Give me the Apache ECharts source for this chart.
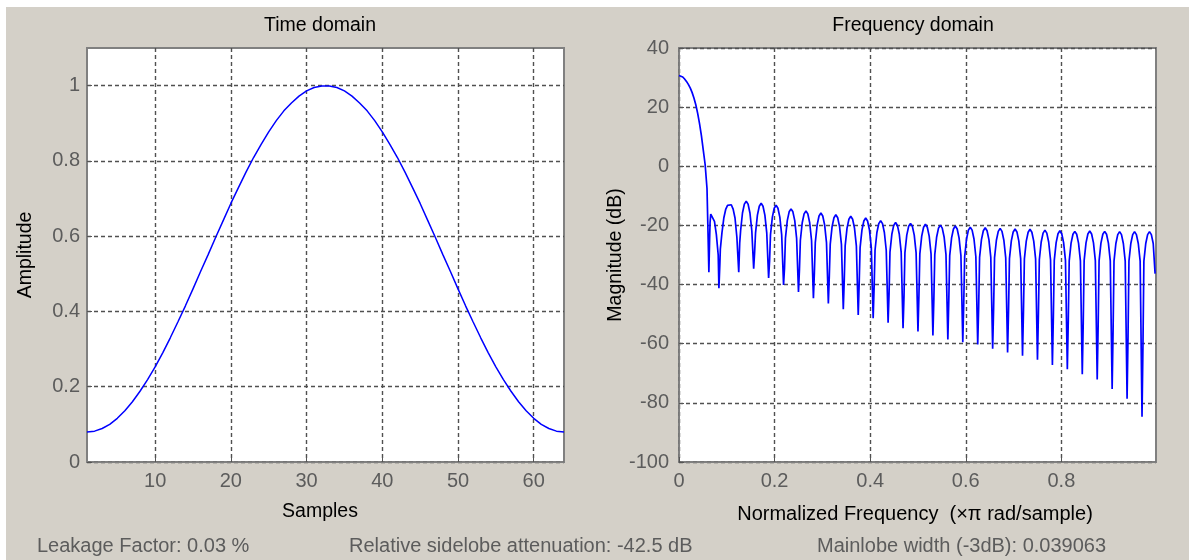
<!DOCTYPE html>
<html><head><meta charset="utf-8">
<script src="https://cdn.jsdelivr.net/npm/echarts@6/dist/echarts.min.js"></script>
<style>html,body{margin:0;padding:0;background:#ffffff;overflow:hidden;}#c{position:absolute;left:6px;top:7px;width:1183px;height:553px;}</style>
</head><body><div id="c"></div>
<script>
// ---------------- data ----------------
const samples = [1,2,3,4,5,6,7,8,9,10,11,12,13,14,15,16,17,18,19,20,21,22,23,24,25,26,27,28,29,30,31,32,
  33,34,35,36,37,38,39,40,41,42,43,44,45,46,47,48,49,50,51,52,53,54,55,56,57,58,59,60,61,62,63,64];
const amplitude = [0.080,0.082,0.089,0.100,0.116,0.136,0.160,0.188,0.219,0.253,0.290,0.330,0.372,0.415,0.460,0.506,
  0.551,0.597,0.642,0.687,0.729,0.770,0.809,0.844,0.877,0.907,0.933,0.954,0.972,0.986,0.995,0.999,
  0.999,0.995,0.986,0.972,0.954,0.933,0.907,0.877,0.844,0.809,0.770,0.729,0.687,0.642,0.597,0.551,
  0.506,0.460,0.415,0.372,0.330,0.290,0.253,0.219,0.188,0.160,0.136,0.116,0.100,0.089,0.082,0.080];
const timeXTicks = [10,20,30,40,50,60];
const timeYTicks = [0,0.2,0.4,0.6,0.8,1];
const freqXTicks = [0,0.2,0.4,0.6,0.8];
const freqYTicks = [-100,-80,-60,-40,-20,0,20,40];
// [normalized frequency, magnitude dB]
const magnitudeDb = [
  [0.00000,30.7],[0.00391,30.6],[0.00781,30.2],[0.01172,29.5],[0.01563,28.7],[0.01953,27.7],[0.02344,26.5],[0.02734,25.0],
  [0.03125,23.1],[0.03516,20.8],[0.03906,17.9],[0.04297,14.4],[0.04688,10.4],[0.05078,5.5],[0.05469,0.6],[0.05859,-7.5],
  [0.06050,-21.0],[0.06250,-35.8],[0.06400,-25.0],[0.06500,-19.0],[0.06641,-16.2],[0.07031,-16.4],[0.07422,-18.6],[0.07813,-23.0],
  [0.08203,-30.0],[0.08350,-41.2],[0.08550,-33.0],[0.08650,-28.0],[0.08984,-22.5],[0.09375,-17.5],[0.09766,-14.6],[0.10156,-13.2],
  [0.10547,-12.8],[0.10938,-13.0],[0.11328,-14.5],[0.11719,-17.5],[0.12109,-24.0],
  [0.12500,-35.8],[0.12700,-26.0],[0.12891,-21.8],[0.13281,-15.8],[0.13672,-12.8],[0.14063,-11.8],[0.14453,-12.8],[0.14844,-15.8],[0.15234,-21.8],
  [0.15625,-34.6],[0.15825,-29.0],[0.16016,-22.5],[0.16406,-16.5],[0.16797,-13.5],[0.17188,-12.5],[0.17578,-13.5],[0.17969,-16.5],[0.18359,-22.5],
  [0.18750,-37.8],[0.18950,-32.0],[0.19141,-23.2],[0.19531,-17.2],[0.19922,-14.2],[0.20313,-13.2],[0.20703,-14.2],[0.21094,-17.2],[0.21484,-23.2],
  [0.21875,-40.1],[0.22075,-34.5],[0.22266,-24.4],[0.22656,-18.4],[0.23047,-15.4],[0.23438,-14.4],[0.23828,-15.4],[0.24219,-18.4],[0.24609,-24.4],
  [0.25000,-42.5],[0.25200,-35.0],[0.25391,-25.1],[0.25781,-19.1],[0.26172,-16.1],[0.26563,-15.1],[0.26953,-16.1],[0.27344,-19.1],[0.27734,-25.1],
  [0.28125,-44.6],[0.28325,-36.0],[0.28516,-25.8],[0.28906,-19.8],[0.29297,-16.8],[0.29688,-15.8],[0.30078,-16.8],[0.30469,-19.8],[0.30859,-25.8],
  [0.31250,-46.4],[0.31450,-37.0],[0.31641,-26.4],[0.32031,-20.4],[0.32422,-17.4],[0.32813,-16.4],[0.33203,-17.4],[0.33594,-20.4],[0.33984,-26.4],
  [0.34375,-48.3],[0.34575,-38.5],[0.34766,-26.9],[0.35156,-20.9],[0.35547,-17.9],[0.35938,-16.9],[0.36328,-17.9],[0.36719,-20.9],[0.37109,-26.9],
  [0.37500,-50.3],[0.37700,-39.5],[0.37891,-27.5],[0.38281,-21.5],[0.38672,-18.5],[0.39063,-17.5],[0.39453,-18.5],[0.39844,-21.5],[0.40234,-27.5],
  [0.40625,-51.4],[0.40825,-40.8],[0.41016,-28.4],[0.41406,-22.4],[0.41797,-19.4],[0.42188,-18.4],[0.42578,-19.4],[0.42969,-22.4],[0.43359,-28.4],
  [0.43750,-52.9],[0.43950,-43.0],[0.44141,-29.0],[0.44531,-23.0],[0.44922,-20.0],[0.45313,-19.0],[0.45703,-20.0],[0.46094,-23.0],[0.46484,-29.0],
  [0.46875,-54.8],[0.47075,-44.0],[0.47266,-29.3],[0.47656,-23.3],[0.48047,-20.3],[0.48438,-19.3],[0.48828,-20.3],[0.49219,-23.3],[0.49609,-29.3],
  [0.50000,-55.9],[0.50200,-43.6],[0.50391,-29.6],[0.50781,-23.6],[0.51172,-20.6],[0.51563,-19.6],[0.51953,-20.6],[0.52344,-23.6],[0.52734,-29.6],
  [0.53125,-57.2],[0.53325,-44.7],[0.53516,-29.9],[0.53906,-23.9],[0.54297,-20.9],[0.54688,-19.9],[0.55078,-20.9],[0.55469,-23.9],[0.55859,-29.9],
  [0.56250,-58.6],[0.56450,-45.2],[0.56641,-30.2],[0.57031,-24.2],[0.57422,-21.2],[0.57813,-20.2],[0.58203,-21.2],[0.58594,-24.2],[0.58984,-30.2],
  [0.59375,-59.5],[0.59575,-46.3],[0.59766,-30.6],[0.60156,-24.6],[0.60547,-21.6],[0.60938,-20.6],[0.61328,-21.6],[0.61719,-24.6],[0.62109,-30.6],
  [0.62500,-60.3],[0.62700,-47.4],[0.62891,-30.8],[0.63281,-24.8],[0.63672,-21.8],[0.64063,-20.8],[0.64453,-21.8],[0.64844,-24.8],[0.65234,-30.8],
  [0.65625,-61.7],[0.65825,-48.0],[0.66016,-31.0],[0.66406,-25.0],[0.66797,-22.0],[0.67188,-21.0],[0.67578,-22.0],[0.67969,-25.0],[0.68359,-31.0],
  [0.68750,-63.0],[0.68950,-48.6],[0.69141,-31.2],[0.69531,-25.2],[0.69922,-22.2],[0.70313,-21.2],[0.70703,-22.2],[0.71094,-25.2],[0.71484,-31.2],
  [0.71875,-64.1],[0.72075,-48.6],[0.72266,-31.3],[0.72656,-25.3],[0.73047,-22.3],[0.73438,-21.3],[0.73828,-22.3],[0.74219,-25.3],[0.74609,-31.3],
  [0.75000,-65.4],[0.75200,-49.7],[0.75391,-31.6],[0.75781,-25.6],[0.76172,-22.6],[0.76563,-21.6],[0.76953,-22.6],[0.77344,-25.6],[0.77734,-31.6],
  [0.78125,-67.2],[0.78325,-50.8],[0.78516,-31.8],[0.78906,-25.8],[0.79297,-22.8],[0.79688,-21.8],[0.80078,-22.8],[0.80469,-25.8],[0.80859,-31.8],
  [0.81250,-68.6],[0.81450,-51.9],[0.81641,-32.0],[0.82031,-26.0],[0.82422,-23.0],[0.82813,-22.0],[0.83203,-23.0],[0.83594,-26.0],[0.83984,-32.0],
  [0.84375,-70.3],[0.84575,-53.0],[0.84766,-31.9],[0.85156,-25.9],[0.85547,-22.9],[0.85938,-21.9],[0.86328,-22.9],[0.86719,-25.9],[0.87109,-31.9],
  [0.87500,-72.1],[0.87700,-53.6],[0.87891,-32.0],[0.88281,-26.0],[0.88672,-23.0],[0.89063,-22.0],[0.89453,-23.0],[0.89844,-26.0],[0.90234,-32.0],
  [0.90625,-75.3],[0.90825,-55.2],[0.91016,-32.1],[0.91406,-26.1],[0.91797,-23.1],[0.92188,-22.1],[0.92578,-23.1],[0.92969,-26.1],[0.93359,-32.1],
  [0.93750,-78.6],[0.93950,-57.4],[0.94141,-32.1],[0.94531,-26.1],[0.94922,-23.1],[0.95313,-22.1],[0.95703,-23.1],[0.96094,-26.1],[0.96484,-32.1],
  [0.96875,-84.7],[0.97075,-60.2],[0.97266,-32.1],[0.97656,-26.1],[0.98047,-23.1],[0.98438,-22.1],[0.98828,-23.1],[0.99219,-26.1],[0.99609,-36.3]
];
const titles = ['Time domain', 'Frequency domain'];
const axisNames = ['Samples', 'Amplitude', 'Normalized Frequency  (\u00d7\u03c0 rad/sample)', 'Magnitude (dB)'];
const infoTexts = ['Leakage Factor: 0.03 %', 'Relative sidelobe attenuation: -42.5 dB', 'Mainlobe width (-3dB): 0.039063'];

// ---------------- chart ----------------
const FONT = "'Liberation Sans', Arial, sans-serif";
const FS = 20;
const chart = echarts.init(document.getElementById('c'), null, {renderer: 'canvas'});

function axisStyle(ticks, margin) {
  return {
    axisLine: {show: true, onZero: false, lineStyle: {color: '#808080', width: 1}},
    axisTick: {show: true, inside: true, length: 5, customValues: ticks, lineStyle: {color: '#555555'}},
    axisLabel: {show: true, customValues: ticks, margin: margin, color: '#5c5c5c', fontFamily: FONT, fontSize: FS},
    splitLine: {show: true, lineStyle: {color: '#505050', width: 1.4, type: [4, 3]}}
  };
}

function txt(x, y, s, color, align, size, rot) {
  const el = {type: 'text', x: x, y: y,
    style: {text: s, fill: color, font: size + 'px ' + FONT, align: align, verticalAlign: 'middle'}};
  if (rot) el.rotation = rot;
  return el;
}

const option = {
  animation: false,
  backgroundColor: '#d4d0c8',
  grid: [
    {left: 81, top: 41, width: 477, height: 414, show: true, backgroundColor: '#ffffff', borderColor: '#808080', borderWidth: 2},
    {left: 673, top: 41, width: 477, height: 414, show: true, backgroundColor: '#ffffff', borderColor: '#808080', borderWidth: 2}
  ],
  xAxis: [
    Object.assign({type: 'value', gridIndex: 0, min: 1, max: 64}, axisStyle(timeXTicks, 9)),
    Object.assign({type: 'value', gridIndex: 1, min: 0, max: 0.998}, axisStyle(freqXTicks, 9))
  ],
  yAxis: [
    Object.assign({type: 'value', gridIndex: 0, min: 0, max: 1.1}, axisStyle(timeYTicks, 7)),
    Object.assign({type: 'value', gridIndex: 1, min: -100, max: 40}, axisStyle(freqYTicks, 10))
  ],
  series: [
    {type: 'line', xAxisIndex: 0, yAxisIndex: 0, showSymbol: false, symbol: 'none',
     data: samples.map((s, i) => [s, amplitude[i]]),
     lineStyle: {color: '#0000ff', width: 1.5}, itemStyle: {color: '#0000ff'}},
    {type: 'line', xAxisIndex: 1, yAxisIndex: 1, showSymbol: false, symbol: 'none',
     data: magnitudeDb,
     lineStyle: {color: '#0000ff', width: 1.7}, itemStyle: {color: '#0000ff'}}
  ],
  graphic: [
    txt(314, 19, titles[0], '#000000', 'center', 19.5),
    txt(907, 19, titles[1], '#000000', 'center', 19.5),
    txt(314, 505, axisNames[0], '#000000', 'center', 19.5),
    txt(909, 507, axisNames[2], '#000000', 'center', 20),
    txt(20, 248, axisNames[1], '#000000', 'center', 19.5, Math.PI / 2),
    txt(610, 248, axisNames[3], '#000000', 'center', 19.5, Math.PI / 2),
    txt(31, 539, infoTexts[0], '#5c5c5c', 'left', 20),
    txt(343, 539, infoTexts[1], '#5c5c5c', 'left', 20),
    txt(811, 539, infoTexts[2], '#5c5c5c', 'left', 20)
  ]
};
chart.setOption(option);
</script></body></html>
